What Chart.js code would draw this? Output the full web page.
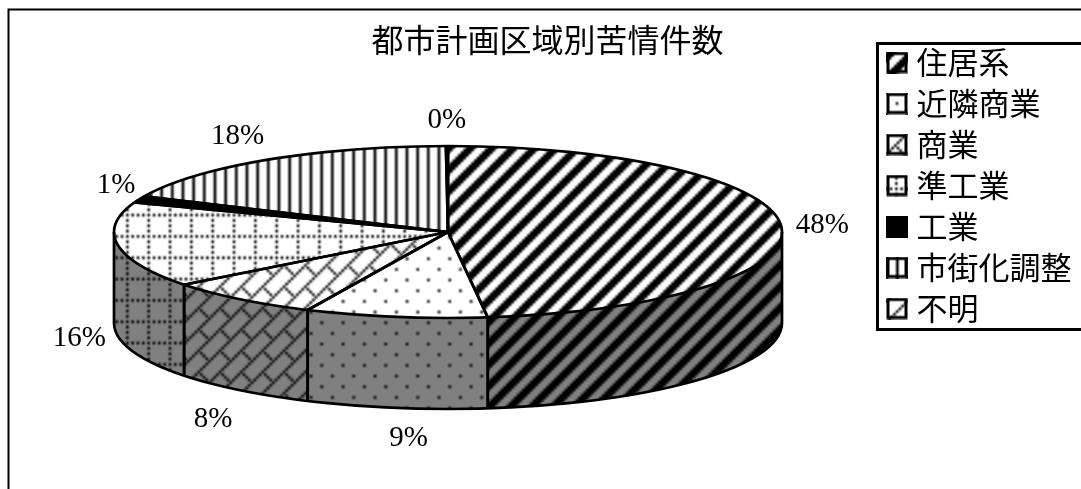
<!DOCTYPE html>
<html><head><meta charset="utf-8">
<style>html,body{margin:0;padding:0;background:#fff;overflow:hidden}canvas{display:block}</style>
<script src="https://cdn.jsdelivr.net/npm/chart.js@4"></script>
</head><body><canvas id="c" width="1081" height="489"></canvas>
<script>
const chartTitle = '都市計画区域別苦情件数';
const categories = ['住居系','近隣商業','商業','準工業','工業','市街化調整','不明'];
const shares = [48.1, 8.8, 7.6, 16.1, 1.2, 18.1, 0.1];

const FONT_CJK = '"Noto Sans CJK JP"';
const FONT_NUM = '"Liberation Serif","Noto Sans CJK JP"';
const VIEW = {cx:448, cy:232, rx:334, ry:86, depth:91, line:2.7};
const WALL = '#808080';

function bitsFor(name){
  const on=[];
  for(let y=0;y<8;y++)for(let x=0;x<8;x++){
    let b=false;
    if(name==='wide') b=((x+y)%8)<4;
    if(name==='dots') b=(x===0&&y===0)||(x===4&&y===4);
    if(name==='brick') b=((x+y)%8===7)||(x===4&&y===5)||(x===5&&y===6)||(x===6&&y===7);
    if(name==='grid') b=(y===0&&x%2===0)||(x===0&&y%2===0);
    if(name==='solid') b=true;
    if(name==='vert') b=(x%4===0);
    if(name==='diag') b=((x+y)%8===7);
    if(b)on.push([x,y]);
  }
  return on;
}
function tile(name,bg){
  const s=document.createElement('canvas');s.width=s.height=40;
  const g=s.getContext('2d');g.fillStyle=bg;g.fillRect(0,0,40,40);g.fillStyle='#000';
  for(let i=0;i<5;i++)for(let j=0;j<5;j++)bitsFor(name).forEach(p=>g.fillRect(p[0]+8*i,p[1]+8*j,1,1));
  const t=document.createElement('canvas');t.width=t.height=64;
  const h=t.getContext('2d');h.imageSmoothingEnabled=true;h.imageSmoothingQuality='low';
  h.drawImage(s,8,8,24,24,0,0,64,64);
  return t;
}
const styleNames=['wide','dots','brick','grid','solid','vert','diag'];
const phases=[[-3.33,-3.33],[0.4,1.4],[-2.67,-2.67],[-2,0.4],[0,0],[0.3,0],[0,0]];
const keyShift=[[0,0],[-1,-1],[0,0],[9,13],[0,0],[10,0],[2,2]];
const ctx0=document.getElementById('c').getContext('2d');
const topPatterns=styleNames.map(n=>ctx0.createPattern(tile(n,'#fff'),'repeat'));
const wallPatterns=styleNames.map(n=>ctx0.createPattern(tile(n,WALL),'repeat'));
function keyCanvas(i){
  const k=document.createElement('canvas');k.width=k.height=22;
  const g=k.getContext('2d');
  const p=g.createPattern(tile(styleNames[i],'#fff'),'repeat');
  p.setTransform(new DOMMatrix().translate(keyShift[i][0],keyShift[i][1]));
  g.fillStyle=p;
  g.fillRect(0,0,22,22);
  g.strokeStyle='#000';g.lineWidth=3;g.strokeRect(2,2,18,18);
  return k;
}
function place(p,i,base){
  p.setTransform(base.multiply(new DOMMatrix().translate(phases[i][0],phases[i][1])));
}
const labelNudge=[[1,0],[19,1],[-2,6],[1,-2],[14,-3],[-7,2],[0,4]];

const pie3d={
  id:'pie3d',
  afterLayout(chart){
    const t=chart.titleBlock,l=chart.legend;
    if(t){t.left=0;t.right=1095;t.top=21;t.bottom=69;}
    if(l){l.left=883;l.right=1081;l.top=37;l.bottom=489;}
  },
  beforeDraw(chart){
    const c=chart.ctx;c.save();
    c.fillStyle='#fff';c.fillRect(0,0,1081,489);
    c.strokeStyle='#000';c.lineWidth=2;c.lineCap='butt';
    c.beginPath();c.moveTo(8.5,489);c.lineTo(8.5,9.5);c.lineTo(1081,9.5);c.stroke();
    c.lineWidth=3;
    c.beginPath();c.moveTo(1081,43.5);c.lineTo(877.5,43.5);c.lineTo(877.5,329.5);c.lineTo(1081,329.5);c.stroke();
    c.restore();
  },
  beforeDatasetsDraw(chart){
    const c=chart.ctx,V=VIEW,arcs=chart.getDatasetMeta(0).data;
    const a0=arcs[0].getProps(['x','y','outerRadius'],true);
    const sx=V.rx/a0.outerRadius,sy=V.ry/a0.outerRadius;
    const m=new DOMMatrix().translate(V.cx,V.cy).scale(sx,sy).translate(-a0.x,-a0.y);
    const inv=m.inverse();
    topPatterns.forEach((p,i)=>place(p,i,inv));
    wallPatterns.forEach((p,i)=>place(p,i,new DOMMatrix()));
    arcs.forEach((a,i)=>{
      const p=a.getProps(['startAngle','endAngle'],true);
      const s=Math.max(p.startAngle,0),e=Math.min(p.endAngle,Math.PI);
      if(e<=s)return;
      c.beginPath();
      c.ellipse(V.cx,V.cy,V.rx,V.ry,0,s,e);
      c.ellipse(V.cx,V.cy+V.depth,V.rx,V.ry,0,e,s,true);
      c.closePath();
      c.fillStyle=wallPatterns[i];c.fill();
    });
    c.save();
    c.setTransform(m);
  },
  afterDatasetsDraw(chart){
    const c=chart.ctx,V=VIEW,arcs=chart.getDatasetMeta(0).data;
    c.restore();
    c.save();
    c.strokeStyle='#000';c.lineWidth=V.line;c.lineJoin='round';
    const pt=(a,d)=>[V.cx+V.rx*Math.cos(a),V.cy+V.ry*Math.sin(a)+(d||0)];
    arcs.forEach(a=>{
      const p=a.getProps(['startAngle','endAngle'],true);
      [p.startAngle,p.endAngle].forEach(t=>{
        c.beginPath();c.moveTo(V.cx,V.cy);c.lineTo(...pt(t));c.stroke();
        if(t>0&&t<Math.PI){c.beginPath();c.moveTo(...pt(t));c.lineTo(...pt(t,V.depth));c.stroke();}
      });
    });
    c.beginPath();c.ellipse(V.cx,V.cy,V.rx,V.ry,0,0,Math.PI*2);c.stroke();
    c.beginPath();c.ellipse(V.cx,V.cy+V.depth,V.rx,V.ry,0,0,Math.PI);c.stroke();
    c.beginPath();c.moveTo(V.cx-V.rx,V.cy);c.lineTo(V.cx-V.rx,V.cy+V.depth);
    c.moveTo(V.cx+V.rx,V.cy);c.lineTo(V.cx+V.rx,V.cy+V.depth);c.stroke();
    const total=shares.reduce((u,v)=>u+v,0);
    c.fillStyle='#000';c.font='29px '+FONT_NUM;c.textAlign='center';c.textBaseline='middle';
    arcs.forEach((a,i)=>{
      const p=a.getProps(['startAngle','endAngle'],true);
      const mid=(p.startAngle+p.endAngle)/2;
      const ca=Math.cos(mid),sa=Math.sin(mid);
      const x=V.cx+374*ca+labelNudge[i][0];
      const y=V.cy+(sa>0?V.depth+116*sa:116*sa)+labelNudge[i][1];
      c.fillText(Math.round(shares[i]/total*100)+'%',x,y);
    });
    c.restore();
  }
};

new Chart(ctx0,{
  type:'pie',
  data:{labels:categories,datasets:[{data:shares,backgroundColor:topPatterns,borderWidth:0,clip:false}]},
  options:{
    responsive:false,animation:false,devicePixelRatio:1,
    events:[],
    plugins:{
      tooltip:{enabled:false},
      title:{display:true,text:chartTitle,color:'#000',align:'center',font:{family:FONT_CJK,size:32,weight:'normal'},padding:0},
      legend:{position:'right',align:'start',
        labels:{color:'#000',font:{family:FONT_CJK,size:31},padding:10,usePointStyle:true,pointStyleWidth:8,boxHeight:20,
          generateLabels(chart){
            return categories.map((t,i)=>({text:t,pointStyle:keyCanvas(i),fillStyle:'#fff',strokeStyle:'#000',lineWidth:0,hidden:false,index:i}));
          }}}
    }
  },
  plugins:[pie3d]
});
</script></body></html>
